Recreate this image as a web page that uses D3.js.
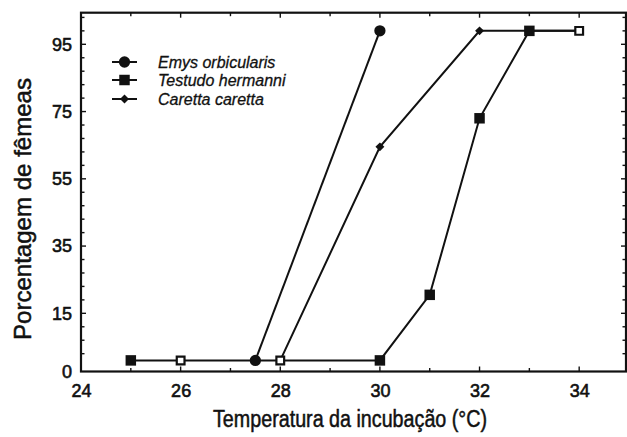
<!DOCTYPE html>
<html>
<head>
<meta charset="utf-8">
<script src="https://cdn.jsdelivr.net/npm/d3@7"></script>
<style>
  html, body { margin: 0; padding: 0; background: #fff; }
  svg { display: block; font-family: "Liberation Sans", Arial, sans-serif; }
</style>
</head>
<body>
<div id="chart"></div>
<script>
// data
const emysTemp = [27.5, 30];
const emysPct = [1, 99];
const testTemp = [25, 26, 28, 30, 31, 32, 33, 34];
const testPct = [1, 1, 1, 1, 20.5, 73, 99, 99];
const testOpen = [26, 28, 34];          // points drawn as open squares
const caretTemp = [28, 30, 32, 33, 34];
const caretPct = [1, 64.5, 99, 99, 99];

const xTicks = [24, 26, 28, 30, 32, 34];
const yTicks = [15, 35, 55, 75, 95];
const seriesNames = ["Emys orbicularis", "Testudo hermanni", "Caretta caretta"];

const W = 627, H = 437;
const ink = "#111";

const svg = d3.select("#chart").append("svg").attr("width", W).attr("height", H);

const x = d3.scaleLinear().domain([24, 35]).range([81, 629]);
const y = d3.scaleLinear().domain([-2.3, 104.4]).range([371.5, 12.7]);

const fL = 81, fR = 626, fT = 12.7, fB = 371.5;

// frame
svg.append("rect")
    .attr("x", fL).attr("y", fT)
    .attr("width", fR - fL).attr("height", fB - fT)
    .attr("fill", "none").attr("stroke", ink).attr("stroke-width", 2.2);

// minor / major tick marks (all pointing inward)
const xMinor = d3.range(24, 35, 1);
const yMinor = d3.range(3, 104, 4);

const tickG = svg.append("g").attr("stroke", ink).attr("stroke-width", 1.4);
xMinor.forEach(t => {
    const len = xTicks.includes(t) ? 5 : 3.5;
    tickG.append("line").attr("x1", x(t)).attr("x2", x(t)).attr("y1", fB).attr("y2", fB - len);
    tickG.append("line").attr("x1", x(t)).attr("x2", x(t)).attr("y1", fT).attr("y2", fT + len);
});
yMinor.forEach(t => {
    const len = yTicks.includes(t) ? 5 : 3.5;
    tickG.append("line").attr("x1", fL).attr("x2", fL + len).attr("y1", y(t)).attr("y2", y(t));
    tickG.append("line").attr("x1", fR).attr("x2", fR - len).attr("y1", y(t)).attr("y2", y(t));
});

// axis labels through d3 axes (tick lines hidden, drawn above)
const xAxis = svg.append("g")
    .attr("transform", `translate(0,${fB})`)
    .call(d3.axisBottom(x).tickValues(xTicks).tickSize(0).tickPadding(13).tickFormat(d3.format("d")));
const yAxis = svg.append("g")
    .attr("transform", `translate(${fL},0)`)
    .call(d3.axisLeft(y).tickValues([-2.3].concat(yTicks)).tickSize(0).tickPadding(9)
        .tickFormat(d => d < 0 ? "0" : d3.format("d")(d)));
[xAxis, yAxis].forEach(a => {
    a.select(".domain").remove();
    a.selectAll("text").attr("font-size", 18).attr("fill", ink)
        .attr("stroke", ink).attr("stroke-width", 0.6)
        .attr("font-family", "Liberation Sans, Arial, sans-serif");
});

// titles
svg.append("text")
    .attr("x", 350).attr("y", 427)
    .attr("text-anchor", "middle")
    .attr("font-size", 23).attr("fill", ink)
    .attr("stroke", ink).attr("stroke-width", 0.5)
    .attr("textLength", 274).attr("lengthAdjust", "spacingAndGlyphs")
    .text("Temperatura da incubação (°C)");

svg.append("text")
    .attr("transform", "translate(31,209) rotate(-90)")
    .attr("text-anchor", "middle")
    .attr("font-size", 24).attr("fill", ink)
    .attr("stroke", ink).attr("stroke-width", 0.5)
    .attr("textLength", 262).attr("lengthAdjust", "spacingAndGlyphs")
    .text("Porcentagem de fêmeas");

// lines
const line = d3.line().x(d => x(d[0])).y(d => y(d[1]));
const series = [
    d3.zip(emysTemp, emysPct),
    d3.zip(testTemp, testPct),
    d3.zip(caretTemp, caretPct)
];
series.forEach(s => {
    svg.append("path").datum(s).attr("d", line)
        .attr("fill", "none").attr("stroke", ink).attr("stroke-width", 2);
});

// markers
const circleSym = d3.symbol().type(d3.symbolCircle).size(100);
const squareSym = d3.symbol().type(d3.symbolSquare).size(110);
const openSym = d3.symbol().type(d3.symbolSquare).size(60);
const diamondSym = d3.symbol().type(d3.symbolSquare).size(40);   // rotated below

svg.append("g").selectAll("path").data(series[2]).join("path")
    .attr("transform", d => `translate(${x(d[0])},${y(d[1])}) rotate(45)`)
    .attr("d", diamondSym).attr("fill", ink);
svg.append("g").selectAll("path").data(series[0]).join("path")
    .attr("transform", d => `translate(${x(d[0])},${y(d[1])})`)
    .attr("d", circleSym).attr("fill", ink);
svg.append("g").selectAll("path").data(series[1]).join("path")
    .attr("transform", d => `translate(${x(d[0])},${y(d[1])})`)
    .attr("d", d => testOpen.includes(d[0]) ? openSym() : squareSym())
    .attr("fill", d => testOpen.includes(d[0]) ? "#fff" : ink)
    .attr("stroke", ink)
    .attr("stroke-width", d => testOpen.includes(d[0]) ? 2.2 : 0);

// legend
const legSyms = [circleSym, squareSym, diamondSym];
const legRot = [0, 0, 45];
const legY = [62, 80, 99];
const leg = svg.append("g");
seriesNames.forEach((name, i) => {
    leg.append("line").attr("x1", 112).attr("x2", 137).attr("y1", legY[i]).attr("y2", legY[i])
        .attr("stroke", ink).attr("stroke-width", 2);
    leg.append("path").attr("transform", `translate(124.5,${legY[i]}) rotate(${legRot[i]})`)
        .attr("d", legSyms[i]).attr("fill", ink);
    leg.append("text").attr("x", 158).attr("y", legY[i] + 5.5)
        .attr("font-size", 16).attr("font-style", "italic").attr("fill", ink)
        .attr("stroke", ink).attr("stroke-width", 0.3)
        .text(name);
});
</script>
</body>
</html>
